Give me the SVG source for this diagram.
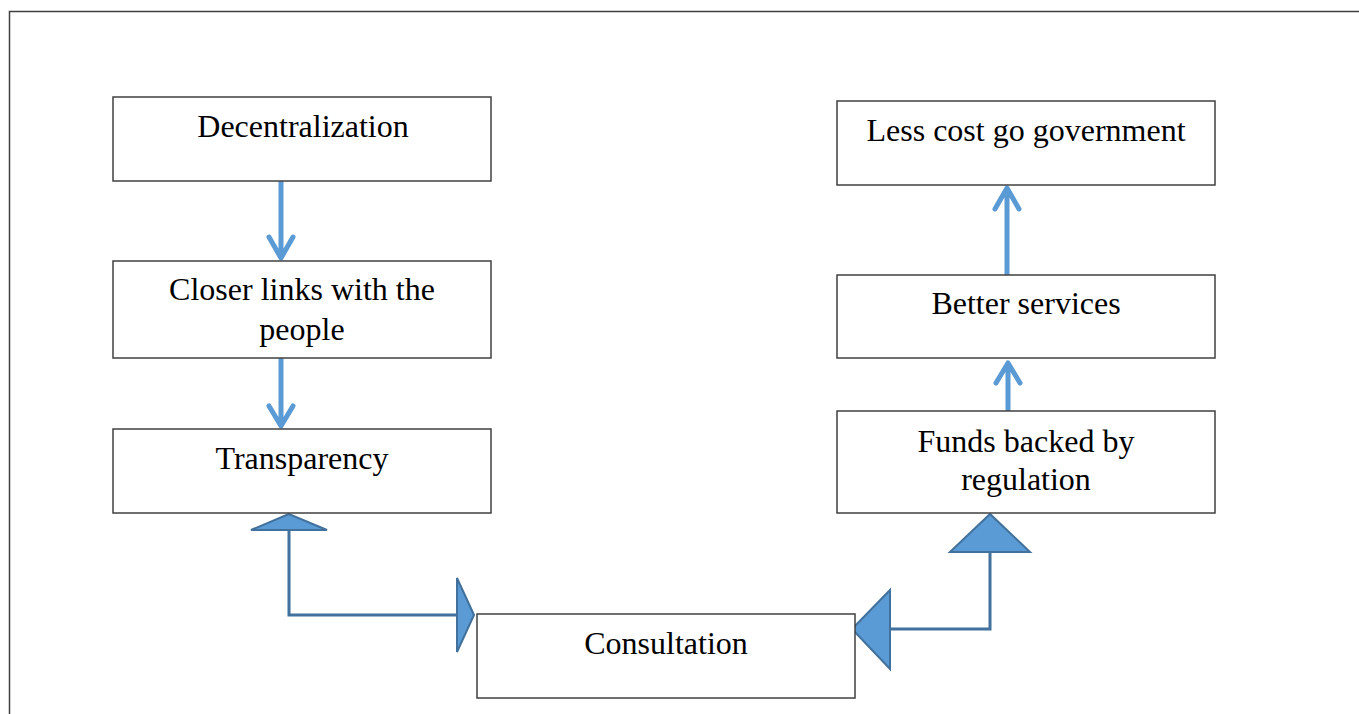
<svg xmlns="http://www.w3.org/2000/svg" width="1359" height="714" viewBox="0 0 1359 714">
<style>
.box{fill:#fff;stroke:#404040;stroke-width:1.5}
.lbl{font-family:"Liberation Serif","Times New Roman",serif;font-size:32px;fill:#000;text-anchor:middle}
.thin{fill:none;stroke:#5B9BD5;stroke-width:5;stroke-linecap:round;stroke-linejoin:round}
.elbow{fill:none;stroke:#41719C;stroke-width:3}
.head{fill:#5B9BD5;stroke:#41719C;stroke-width:2;stroke-linejoin:miter}
</style>
<rect width="1359" height="714" fill="#fff"/>
<path d="M9.5 714 V11.5 H1359" fill="none" stroke="#404040" stroke-width="1.5"/>
<g id="connectors">
<path class="thin" d="M281 182 V257 M269 237 L281 258 L293 237"/>
<path class="thin" d="M281 359 V425 M269 406 L281 426 L293 406"/>
<path class="thin" d="M1007 274 V189 M995 209 L1007 188 L1019 209"/>
<path class="thin" d="M1008 410 V365 M996 383 L1008 363 L1020 383"/>
<path class="elbow" d="M289 530 V615 H458"/>
<polygon class="head" points="289,514 251,530 327,530"/>
<polygon class="head" points="474,615 457,578 457,652"/>
<path class="elbow" d="M990 552 V629 H889"/>
<polygon class="head" points="990,514 950,552 1030,552"/>
<polygon class="head" points="852,629 890,590 890,669"/>
</g>
<g id="decentralization"><rect class="box" x="113" y="97" width="378" height="84"/><text class="lbl" x="303" y="137">Decentralization</text></g>
<g id="closer-links"><rect class="box" x="113" y="261" width="378" height="97"/><text class="lbl" x="302" y="300">Closer links with the</text><text class="lbl" x="302" y="340">people</text></g>
<g id="transparency"><rect class="box" x="113" y="429" width="378" height="84"/><text class="lbl" x="302" y="469">Transparency</text></g>
<g id="consultation"><rect class="box" x="477" y="614" width="378" height="84"/><text class="lbl" x="666" y="654">Consultation</text></g>
<g id="funds"><rect class="box" x="837" y="411" width="378" height="102"/><text class="lbl" x="1026" y="452">Funds backed by</text><text class="lbl" x="1026" y="490">regulation</text></g>
<g id="better-services"><rect class="box" x="837" y="275" width="378" height="83"/><text class="lbl" x="1026" y="314">Better services</text></g>
<g id="less-cost"><rect class="box" x="837" y="101" width="378" height="84"/><text class="lbl" x="1026" y="141">Less cost go government</text></g>
</svg>
